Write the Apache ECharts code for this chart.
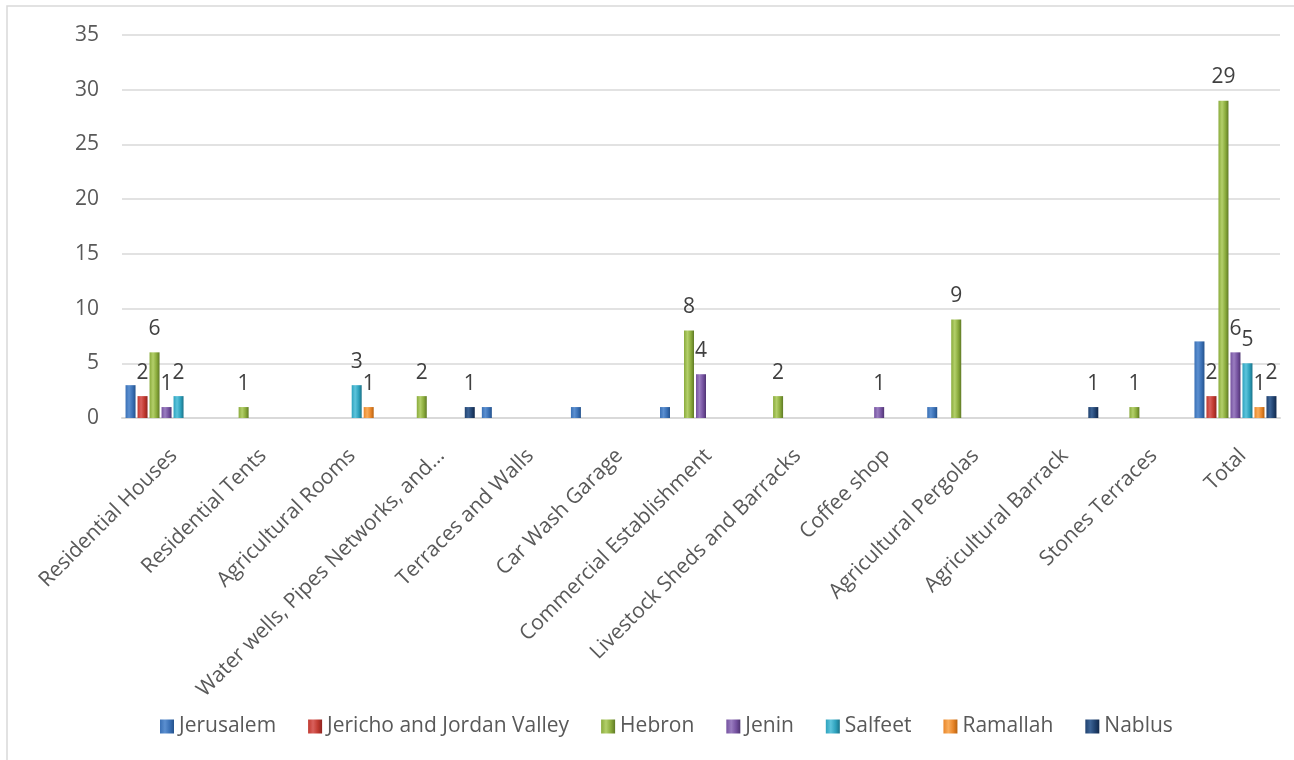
<!DOCTYPE html>
<html>
<head>
<meta charset="utf-8">
<script src="https://cdn.jsdelivr.net/npm/echarts@6/dist/echarts.min.js"></script>
<style>
html,body{margin:0;padding:0;background:#fff;}
#chart{width:1294px;height:760px;}
</style>
</head>
<body>
<div id="chart"></div>
<script>
const categories = [
  'Residential Houses', 'Residential Tents', 'Agricultural Rooms',
  'Water wells, Pipes Networks, and...', 'Terraces and Walls', 'Car Wash Garage',
  'Commercial Establishment', 'Livestock Sheds and Barracks', 'Coffee shop',
  'Agricultural Pergolas', 'Agricultural Barrack', 'Stones Terraces', 'Total'
];
const seriesNames = ['Jerusalem', 'Jericho and Jordan Valley', 'Hebron', 'Jenin', 'Salfeet', 'Ramallah', 'Nablus'];
const jerusalem = [3, 0, 0, 0, 1, 1, 1, 0, 0, 1, 0, 0, 7];
const jericho   = [2, 0, 0, 0, 0, 0, 0, 0, 0, 0, 0, 0, 2];
const hebron    = [6, 1, 0, 2, 0, 0, 8, 2, 0, 9, 0, 1, 29];
const jenin     = [1, 0, 0, 0, 0, 0, 4, 0, 1, 0, 0, 0, 6];
const salfeet   = [2, 0, 3, 0, 0, 0, 0, 0, 0, 0, 0, 0, 5];
const ramallah  = [0, 0, 1, 0, 0, 0, 0, 0, 0, 0, 0, 0, 1];
const nablus    = [0, 0, 0, 1, 0, 0, 0, 0, 0, 0, 1, 0, 2];
const yTicks = { min: 0, max: 35, interval: 5 };

const seriesData = [jerusalem, jericho, hebron, jenin, salfeet, ramallah, nablus];
const showLabels = [false, true, true, true, true, true, true];
const palette = [
  ['#5b8fd0', '#3a70b5', '#24528c'],
  ['#d9605c', '#c0392f', '#8f2420'],
  ['#b3cf6a', '#8aab3c', '#5f7a25'],
  ['#9a7dc0', '#7552a0', '#4f3472'],
  ['#5dc4dc', '#2ea2bd', '#1b7389'],
  ['#f9ad5c', '#e8862a', '#b8620f'],
  ['#3d6496', '#21426f', '#12284a']
];
const FONT = '"Open Sans", sans-serif';

function grad(c) {
  return new echarts.graphic.LinearGradient(0, 0, 1, 0, [
    { offset: 0, color: c[1] },
    { offset: 0.35, color: c[0] },
    { offset: 0.7, color: c[1] },
    { offset: 1, color: c[2] }
  ]);
}

const chart = echarts.init(document.getElementById('chart'));
chart.setOption({
  animation: false,
  backgroundColor: '#ffffff',
  textStyle: { fontFamily: FONT },
  graphic: [{
    type: 'rect',
    shape: { x: 7, y: 6, width: 1400, height: 800 },
    style: { fill: 'none', stroke: '#d9d9d9', lineWidth: 1.5 },
    silent: true
  }],
  grid: { left: 122, right: 14, top: 35, bottom: 342, containLabel: false },
  legend: {
    data: seriesNames,
    left: 155,
    top: 711,
    itemWidth: 14,
    itemHeight: 14,
    itemGap: 32,
    icon: 'rect',
    textStyle: { color: '#595959', fontSize: 21, fontFamily: FONT }
  },
  xAxis: {
    type: 'category',
    data: categories,
    axisLine: { lineStyle: { color: '#d9d9d9', width: 2 } },
    axisTick: { show: false },
    axisLabel: {
      interval: 0,
      rotate: 45,
      margin: 27,
      align: 'right',
      verticalAlign: 'top',
      color: '#595959',
      fontSize: 21,
      fontFamily: FONT
    }
  },
  yAxis: {
    type: 'value',
    min: yTicks.min,
    max: yTicks.max,
    interval: yTicks.interval,
    axisLine: { show: false },
    axisTick: { show: false },
    splitLine: { lineStyle: { color: '#d9d9d9', width: 1.5 } },
    axisLabel: { margin: 23, color: '#595959', fontSize: 21, fontFamily: FONT }
  },
  series: seriesNames.map((name, i) => ({
    name: name,
    type: 'bar',
    data: seriesData[i],
    barWidth: 10,
    barGap: '20%',
    itemStyle: { color: grad(palette[i]) },
    label: {
      show: showLabels[i],
      position: 'top',
      distance: 13,
      color: '#404040',
      fontSize: 21,
      fontFamily: FONT,
      formatter: p => (p.value > 0 ? String(p.value) : '')
    }
  }))
});
</script>
</body>
</html>
